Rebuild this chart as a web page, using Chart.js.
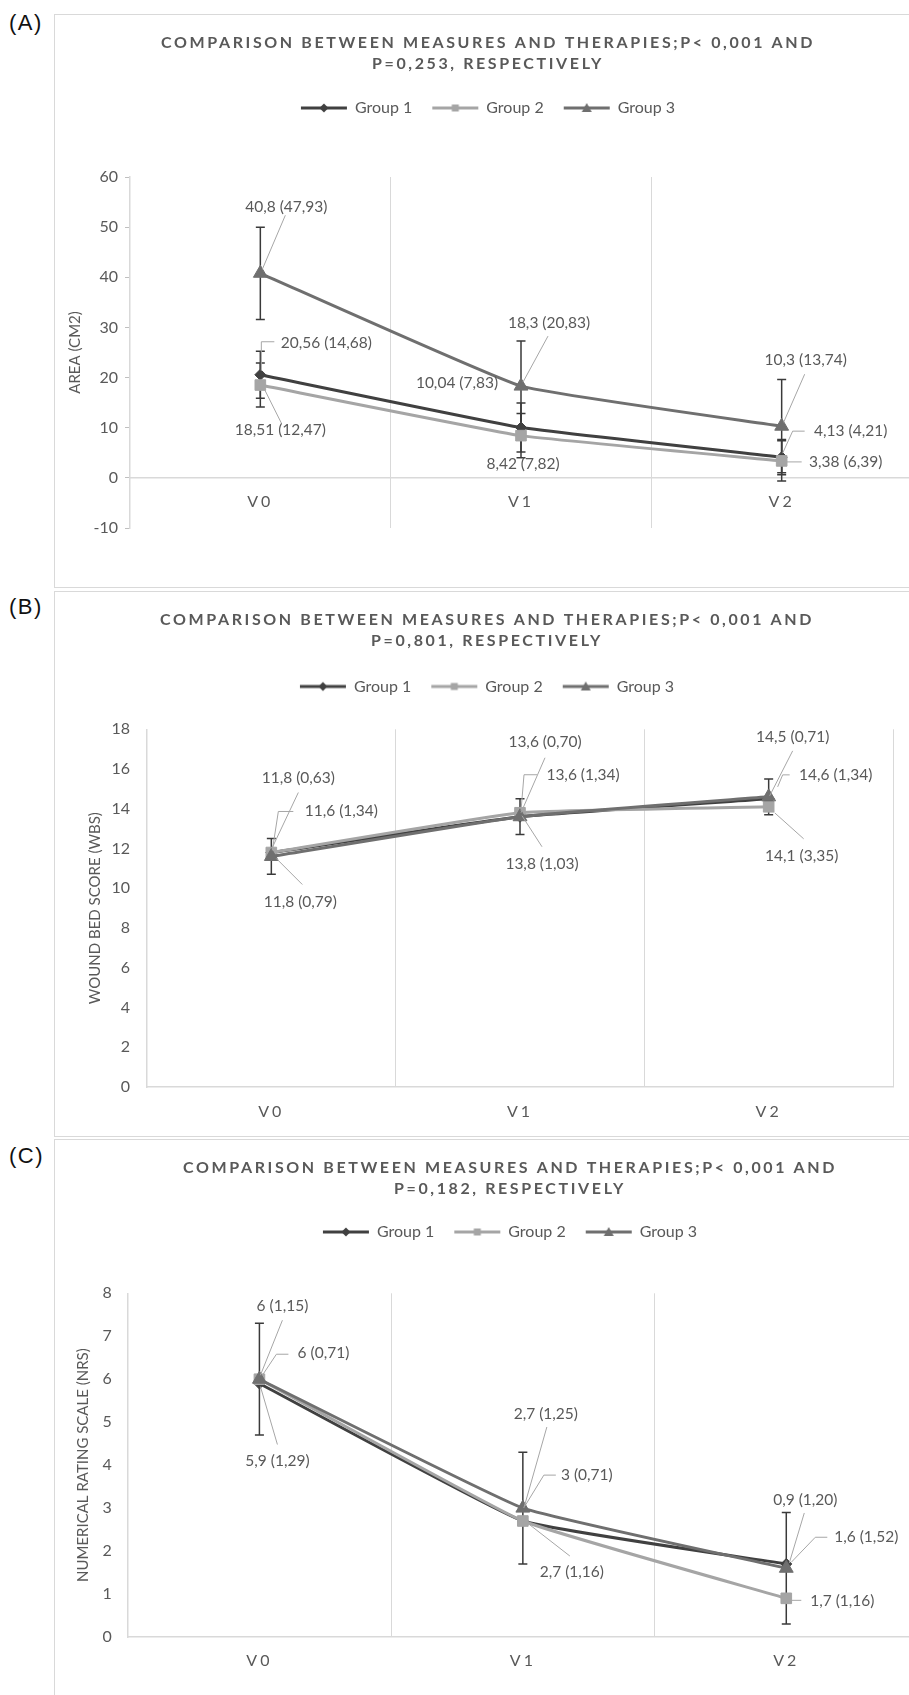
<!DOCTYPE html>
<html><head><meta charset="utf-8">
<script src="https://cdn.jsdelivr.net/npm/chart.js@4.4.1/dist/chart.umd.min.js"></script>
<style>
html,body{margin:0;padding:0;background:#fff;}
body{width:909px;height:1695px;overflow:hidden;position:relative;font-family:'Liberation Sans',Arial,sans-serif;}
.box{position:absolute;border:1.5px solid #d9d9d9;box-sizing:border-box;}
.tag{position:absolute;font-size:22px;line-height:22px;letter-spacing:1.5px;color:#111;}
canvas{position:absolute;}
</style></head><body>
<div class="box" style="left:54px;top:14px;width:900px;height:574px"></div>
<div class="box" style="left:54px;top:591px;width:900px;height:546px"></div>
<div class="box" style="left:54px;top:1139px;width:900px;height:600px"></div>
<div class="tag" style="left:9px;top:12px">(A)</div>
<div class="tag" style="left:9px;top:596px">(B)</div>
<div class="tag" style="left:9px;top:1145px">(C)</div>
<canvas id="A"></canvas>
<canvas id="B"></canvas>
<canvas id="C"></canvas>
<script>
// ---------------- DATA ----------------
const categories = ["V0", "V1", "V2"];
const groupNames = ["Group 1", "Group 2", "Group 3"];

// Panel A - area (cm2)
const areaG1 = [20.56, 10.04, 4.13];
const areaG2 = [18.51, 8.42, 3.38];
const areaG3 = [40.8, 18.3, 10.3];
const areaErrG1 = [4.7, 4.9, 3.5];
const areaErrG2 = [4.4, 4.4, 4.0];
const areaErrG3 = [9.2, 9.0, 9.3];
const areaLblG1 = ["20,56 (14,68)", "10,04 (7,83)", "4,13 (4,21)"];
const areaLblG2 = ["18,51 (12,47)", "8,42 (7,82)", "3,38 (6,39)"];
const areaLblG3 = ["40,8 (47,93)", "18,3 (20,83)", "10,3 (13,74)"];
const areaAxis = [-10, 60, 10];

// Panel B - wound bed score
const wbsG1 = [11.8, 13.6, 14.5];
const wbsG2 = [11.8, 13.8, 14.1];
const wbsG3 = [11.6, 13.6, 14.6];
const wbsErrG3 = [0.9, 0.9, 0.9];
const wbsLblG1 = ["11,8 (0,63)", "13,6 (0,70)", "14,5 (0,71)"];
const wbsLblG2 = ["11,8 (0,79)", "13,8 (1,03)", "14,1 (3,35)"];
const wbsLblG3 = ["11,6 (1,34)", "13,6 (1,34)", "14,6 (1,34)"];
const wbsAxis = [0, 18, 2];

// Panel C - numerical rating scale
const nrsG1 = [5.9, 2.7, 1.7];
const nrsG2 = [6.0, 2.7, 0.9];
const nrsG3 = [6.0, 3.0, 1.6];
const nrsErrG3 = [1.3, 1.3, 1.3];
const nrsLblG1 = ["5,9 (1,29)", "2,7 (1,25)", "0,9 (1,20)"];
const nrsLblG2 = ["6 (1,15)", "2,7 (1,16)", "1,7 (1,16)"];
const nrsLblG3 = ["6 (0,71)", "3 (0,71)", "1,6 (1,52)"];
const nrsAxis = [0, 8, 1];

const titleA = ["COMPARISON BETWEEN MEASURES AND THERAPIES;P< 0,001 AND", "P=0,253, RESPECTIVELY"];
const titleB = ["COMPARISON BETWEEN MEASURES AND THERAPIES;P< 0,001 AND", "P=0,801, RESPECTIVELY"];
const titleC = ["COMPARISON BETWEEN MEASURES AND THERAPIES;P< 0,001 AND", "P=0,182, RESPECTIVELY"];
const yTitleA = "AREA (CM2)";
const yTitleB = "WOUND BED SCORE (WBS)";
const yTitleC = "NUMERICAL RATING SCALE (NRS)";

// ---------------- STYLE / LAYOUT ----------------
const STYLE = [
  {color: '#404040', point: 'rectRot', radius: 5.5},
  {color: '#a5a5a5', point: 'rect', radius: 7.5},
  {color: '#6f6f6f', point: 'triangle', radius: 8}
];
const TXT = '#595959';
const GRID = '#d9d9d9';

// label offsets relative to the point they describe: [dx, dy, leader polyline]
const LABEL_LAYOUT = {
  A: [
    [{dx:66,dy:-32,lead:[[1,-4],[1,-33],[14,-33]]},{dx:-64,dy:-45,lead:null},{dx:69,dy:-26,lead:[[1,-4],[11,-26],[23,-26]]}],
    [{dx:20,dy:45,lead:[[3,2],[21,38]]},{dx:2,dy:28,lead:null},{dx:64,dy:1,lead:[[5,1],[20,1]]}],
    [{dx:26,dy:-66,lead:[[2,-4],[25,-58]]},{dx:28,dy:-63,lead:[[2,-4],[27,-50]]},{dx:24,dy:-66,lead:[[2,-4],[23,-52]]}]
  ],
  B: [
    [{dx:27,dy:-75,lead:[[1,-5],[27,-60]]},{dx:25,dy:-75,lead:[[1,-4],[25,-59]]},{dx:24,dy:-62,lead:[[1,-3],[24,-48]]}],
    [{dx:29,dy:49,lead:[[5,6],[31,32]]},{dx:22,dy:51,lead:[[2,3],[22,34]]},{dx:33,dy:49,lead:[[6,6],[35,32]]}],
    [{dx:70,dy:-45,lead:[[1,-6],[7,-45],[22,-45]]},{dx:63,dy:-42,lead:[[1,-6],[4,-42],[17,-42]]},{dx:67,dy:-22,lead:[[9,-10],[14,-22],[21,-22]]}]
  ],
  C: [
    [{dx:18,dy:77,lead:[[1,3],[18,61]]},{dx:23,dy:-107,lead:[[1,-13],[24,-94]]},{dx:19,dy:-64,lead:[[3,-1],[18,-51]]}],
    [{dx:23,dy:-73,lead:[[1,-4],[23,-59]]},{dx:49,dy:51,lead:[[2,0],[47,35]]},{dx:56,dy:3,lead:[[5,2],[15,2]]}],
    [{dx:64,dy:-26,lead:[[3,-4],[17,-25],[29,-25]]},{dx:64,dy:-33,lead:[[2,-2],[21,-33],[33,-33]]},{dx:80,dy:-31,lead:[[5,-6],[29,-31],[41,-31]]}]
  ]
};

const PANELS = [
  {id:'A', left:55, top:15, width:866, height:533, zeroAxis:true, yWidth:75, yTitlePad:11, yTickPad:7, yTicks:true,
   titlePad:{top:17.5,bottom:5.5}, topGap:51, rightGap:9, padBottom:20, xPad:14,
   title:titleA, yTitle:yTitleA, axis:areaAxis,
   series:[[areaG1,areaErrG1,areaLblG1],[areaG2,areaErrG2,areaLblG2],[areaG3,areaErrG3,areaLblG3]]},
  {id:'B', left:55, top:592, width:864, height:535, zeroAxis:false, yWidth:92, yTitlePad:31, yTickPad:17, yTicks:false,
   titlePad:{top:17.5,bottom:7}, topGap:24.8, rightGap:26, padBottom:0, xPad:15,
   title:titleB, yTitle:yTitleB, axis:wbsAxis,
   series:[[wbsG1,null,wbsLblG1],[wbsG2,null,wbsLblG2],[wbsG3,wbsErrG3,wbsLblG3]]},
  {id:'C', left:55, top:1140, width:910, height:537, zeroAxis:false, yWidth:72.7, yTitlePad:19, yTickPad:16, yTicks:false,
   titlePad:{top:17.5,bottom:4.5}, topGap:43.3, rightGap:47, padBottom:0, xPad:14,
   title:titleC, yTitle:yTitleC, axis:nrsAxis,
   series:[[nrsG1,null,nrsLblG1],[nrsG2,null,nrsLblG2],[nrsG3,nrsErrG3,nrsLblG3]]}
];

// ---------------- PLUGINS ----------------
const errorBarPlugin = {
  id: 'errorBars',
  beforeDatasetsDraw(chart) {
    const ctx = chart.ctx, ys = chart.scales.y;
    chart.data.datasets.forEach((ds, i) => {
      if (!ds.errs) return;
      const meta = chart.getDatasetMeta(i);
      ctx.save();
      ctx.strokeStyle = '#3a3a3a'; ctx.lineWidth = 1.5;
      meta.data.forEach((pt, j) => {
        const e = ds.errs[j]; if (e == null) return;
        const v = ds.data[j];
        const t = ys.getPixelForValue(v + e), b = ys.getPixelForValue(v - e), x = pt.x;
        ctx.beginPath();
        ctx.moveTo(x, t); ctx.lineTo(x, b);
        ctx.moveTo(x - 4.5, t); ctx.lineTo(x + 4.5, t);
        ctx.moveTo(x - 4.5, b); ctx.lineTo(x + 4.5, b);
        ctx.stroke();
      });
      ctx.restore();
    });
  }
};

const leaderLabelPlugin = {
  id: 'leaderLabels',
  afterDatasetsDraw(chart) {
    const spec = LABEL_LAYOUT[chart.canvas.id]; if (!spec) return;
    const ctx = chart.ctx;
    ctx.save();
    ctx.font = '15.5px Lato'; ctx.fillStyle = TXT; ctx.textAlign = 'center'; ctx.textBaseline = 'middle';
    ctx.strokeStyle = '#a6a6a6'; ctx.lineWidth = 1;
    chart.data.datasets.forEach((ds, i) => {
      const meta = chart.getDatasetMeta(i);
      meta.data.forEach((pt, j) => {
        const s = spec[i][j];
        if (s.lead) {
          ctx.beginPath();
          s.lead.forEach(([a, b], k) => k ? ctx.lineTo(pt.x + a, pt.y + b) : ctx.moveTo(pt.x + a, pt.y + b));
          ctx.stroke();
        }
        ctx.fillText(ds.valueLabels[j], pt.x + s.dx, pt.y + s.dy);
      });
    });
    ctx.restore();
  }
};

const spacingPlugin = {
  id: 'spacing',
  beforeDraw(chart) {
    if (chart.$spaced) return; chart.$spaced = true;
    const tb = chart.titleBlock;
    if (tb) {
      const c = chart.ctx;
      c.save(); c.font = 'bold 16px Lato';
      const line = chart.options.plugins.title.text[0];
      const w = c.measureText(line).width;
      c.restore();
      const sp = Math.max(0, (654 - w) / line.length);
      const orig = tb.draw;
      tb.draw = function(a) { const cx = this.ctx; const p = cx.letterSpacing; cx.letterSpacing = sp + 'px'; orig.call(this, a); cx.letterSpacing = p || '0px'; };
    }
    const xs = chart.scales.x;
    const ol = xs.drawLabels;
    xs.drawLabels = function(a) { const cx = this.ctx; const p = cx.letterSpacing; cx.letterSpacing = '3px'; ol.call(this, a); cx.letterSpacing = p || '0px'; };
  }
};

function legendIcon(i) {
  const c = document.createElement('canvas'); c.width = 50; c.height = 14;
  const g = c.getContext('2d'); const col = STYLE[i].color;
  g.strokeStyle = col; g.lineWidth = 3; g.beginPath(); g.moveTo(2, 7); g.lineTo(48, 7); g.stroke();
  g.fillStyle = col; g.beginPath();
  if (i === 0) { g.moveTo(25, 2.5); g.lineTo(29.5, 7); g.lineTo(25, 11.5); g.lineTo(20.5, 7); }
  else if (i === 1) { g.rect(21.5, 3.5, 7, 7); }
  else { g.moveTo(25, 2); g.lineTo(30, 11); g.lineTo(20, 11); }
  g.closePath(); g.fill();
  return c;
}

function buildPanel(P) {
  const cv = document.getElementById(P.id);
  cv.width = P.width; cv.height = P.height;
  cv.style.left = P.left + 'px'; cv.style.top = P.top + 'px';
  cv.style.width = P.width + 'px'; cv.style.height = P.height + 'px';
  const icons = [0, 1, 2].map(legendIcon);
  const datasets = P.series.map((s, i) => ({
    label: groupNames[i], data: s[0], errs: s[1], valueLabels: s[2],
    borderColor: STYLE[i].color, backgroundColor: STYLE[i].color, borderWidth: 3,
    pointStyle: STYLE[i].point, pointRadius: STYLE[i].radius,
    pointBackgroundColor: STYLE[i].color, pointBorderColor: STYLE[i].color, pointBorderWidth: 1,
    tension: 0.1, order: 2 - i, xAxisID: 'x', yAxisID: 'y'
  }));
  const xScale = {
    type: 'category', offset: true,
    position: P.zeroAxis ? {y: 0} : 'bottom',
    grid: {display: true, offset: true, color: GRID, lineWidth: 1, drawTicks: false},
    border: {display: true, color: GRID, width: 1.5},
    ticks: {color: TXT, font: {family: 'Lato', size: 16}, padding: P.xPad}
  };
  if (!P.zeroAxis) xScale.afterFit = s => { s.height = 40; };
  new Chart(cv, {
    type: 'line',
    data: {labels: categories, datasets},
    options: {
      responsive: false, animation: false, devicePixelRatio: 1, events: [],
      layout: {padding: {left: 0, right: 0, top: 0, bottom: P.padBottom}},
      plugins: {
        title: {display: true, text: P.title, color: TXT, padding: P.titlePad,
                font: {family: 'Lato', size: 16, weight: 'bold', lineHeight: 21 / 16}},
        legend: {display: true, position: 'top',
          labels: {usePointStyle: true, pointStyleWidth: 46, padding: 20, color: TXT,
                   font: {family: 'Lato', size: 16},
                   generateLabels: () => groupNames.map((n, i) => ({text: n, pointStyle: icons[i], fillStyle: STYLE[i].color,
                     strokeStyle: STYLE[i].color, lineWidth: 0, hidden: false, datasetIndex: i, fontColor: TXT}))}},
        tooltip: {enabled: false}
      },
      scales: {
        x: xScale,
        y: {
          type: 'linear', position: 'left', min: P.axis[0], max: P.axis[1],
          ticks: {stepSize: P.axis[2], color: TXT, font: {family: 'Lato', size: 16}, padding: P.yTickPad},
          grid: {drawOnChartArea: false, drawTicks: P.yTicks, tickLength: 5, color: GRID, tickColor: '#bfbfbf'},
          border: {display: true, color: GRID, width: 1.5},
          title: {display: true, text: P.yTitle, color: TXT, font: {family: 'Lato', size: 15}, padding: {top: P.yTitlePad, bottom: 0}},
          afterFit: s => { s.width = P.yWidth; }
        },
        xT: {type: 'linear', position: 'top', display: true, grid: {display: false, drawTicks: false}, border: {display: false},
             ticks: {display: false}, afterFit: s => { s.height = P.topGap; }},
        yR: {type: 'linear', position: 'right', display: true, grid: {display: false, drawTicks: false}, border: {display: false},
             ticks: {display: false}, afterFit: s => { s.width = P.rightGap; }}
      }
    },
    plugins: [errorBarPlugin, leaderLabelPlugin, spacingPlugin]
  });
}

function buildAll() { PANELS.forEach(buildPanel); }
const ready = (document.fonts && document.fonts.load)
  ? Promise.all(['16px Lato', 'bold 16px Lato', '15px Lato'].map(f => document.fonts.load(f))).catch(() => {})
  : Promise.resolve();
ready.then(buildAll, buildAll);
</script>
</body></html>
